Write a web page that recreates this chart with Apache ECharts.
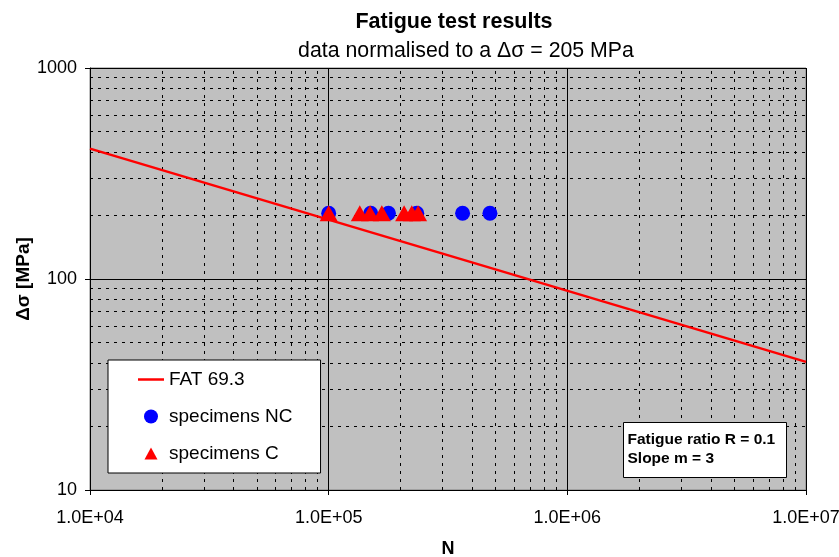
<!DOCTYPE html>
<html lang="en">
<head>
    <meta charset="UTF-8">
    <title>Fatigue test results</title>
    <script src="https://cdn.jsdelivr.net/npm/echarts@6/dist/echarts.min.js"></script>
    <style>
        body { margin: 0; padding: 0; background: #ffffff; }
        #chart { width: 839px; height: 557px; }
    </style>
</head>
<body>
<div id="chart"></div>
<script>
// FAT 69.3 design line (m = 3), end points
const fatLine = [[1e4, 415], [1e7, 40.5]];

// specimens, all normalised to 205 MPa
const cyclesNC = [1.0e5, 1.5e5, 1.78e5, 2.34e5, 3.64e5, 4.74e5];
const stressNC = [205, 205, 205, 205, 205, 205];
const cyclesC = [1.0e5, 1.35e5, 1.49e5, 1.67e5, 2.07e5, 2.23e5, 2.37e5];
const stressC = [205, 205, 205, 205, 205, 205, 205];

// minor grid positions (log decades)
const minorX = [];
const minorY = [];
[1e4, 1e5, 1e6].forEach(d => { for (let k = 2; k <= 9; k++) minorX.push(k * d); });
[10, 100].forEach(d => { for (let k = 2; k <= 9; k++) minorY.push(k * d); });

const font = 'Liberation Sans, Arial, sans-serif';

function expLabel(v) {
    const e = Math.round(Math.log10(v));
    return '1.0E+' + (e < 10 ? '0' + e : e);
}

// legend icons: the leading moves fix the box so the shapes are not stretched
const iconLine = 'path://M0,0 M26,14 M0,5.75 L26,5.75 L26,8.25 L0,8.25 Z';
const iconTri = 'path://M0,0 M26,14 M6.5,13 L13,1 L19.5,13 Z';

const chart = echarts.init(document.getElementById('chart'));

chart.setOption({
    backgroundColor: '#ffffff',
    animation: false,
    textStyle: { fontFamily: font },
    title: [{
        text: 'Fatigue test results',
        left: 449,
        top: 6,
        textAlign: 'center',
        textStyle: { fontSize: 21.5, fontWeight: 'bold', color: '#000', fontFamily: font }
    }, {
        text: 'data normalised to a \u0394\u03c3 = 205 MPa',
        left: 461,
        top: 36,
        textAlign: 'center',
        textStyle: { fontSize: 21.3, fontWeight: 'normal', color: '#000', fontFamily: font }
    }],
    grid: {
        left: 90, right: 33, top: 68, bottom: 67,
        outerBoundsMode: 'none',
        show: true,
        backgroundColor: '#c0c0c0',
        borderColor: '#808080',
        borderWidth: 1
    },
    legend: {
        orient: 'vertical',
        left: 108,
        top: 360,
        z: 10,
        backgroundColor: '#ffffff',
        borderColor: '#000000',
        borderWidth: 1,
        padding: [10, 28, 10, 30],
        itemGap: 18,
        itemWidth: 26,
        itemHeight: 14,
        textStyle: { fontSize: 19, color: '#000', fontFamily: font },
        data: [
            { name: 'FAT 69.3', icon: iconLine },
            { name: 'specimens NC', icon: 'circle' },
            { name: 'specimens C', icon: iconTri }
        ]
    },
    xAxis: {
        type: 'log',
        logBase: 10,
        min: 1e4,
        max: 1e7,
        name: 'N',
        nameLocation: 'middle',
        nameGap: 50,
        nameTextStyle: { fontSize: 18, fontWeight: 'bold', color: '#000' },
        axisLine: { lineStyle: { color: '#000' } },
        axisTick: { show: true, length: 5, lineStyle: { color: '#000' } },
        axisLabel: { fontSize: 18, color: '#000', margin: 19, formatter: expLabel },
        splitLine: { show: true, lineStyle: { color: '#000', width: 1 } }
    },
    yAxis: {
        type: 'log',
        logBase: 10,
        min: 10,
        max: 1000,
        name: '\u0394\u03c3 [MPa]',
        nameLocation: 'middle',
        nameGap: 57,
        nameMoveOverlap: false,
        nameTextStyle: { fontSize: 19, fontWeight: 'bold', color: '#000' },
        axisLine: { lineStyle: { color: '#000' } },
        axisTick: { show: true, inside: false, length: 5, lineStyle: { color: '#000' } },
        axisLabel: { fontSize: 18, color: '#000', margin: 13, formatter: v => String(v) },
        splitLine: { show: true, lineStyle: { color: '#000', width: 1 } }
    },
    graphic: [{
        type: 'group',
        left: 623,
        top: 422,
        z: 100,
        children: [{
            type: 'rect',
            z: 100,
            shape: { x: 0, y: 0, width: 163, height: 55 },
            style: { fill: '#ffffff', stroke: '#000', lineWidth: 1 }
        }, {
            type: 'text',
            z: 101,
            left: 4,
            top: 8,
            style: {
                text: 'Fatigue ratio R = 0.1\nSlope m = 3',
                font: 'bold 15.5px ' + font,
                lineHeight: 19,
                fill: '#000'
            }
        }]
    }],
    series: [{
        name: 'minor grid',
        type: 'line',
        data: [],
        silent: true,
        z: 1,
        markLine: {
            z: 1,
            silent: true,
            symbol: 'none',
            label: { show: false },
            lineStyle: { color: '#000', type: [3, 5], width: 1 },
            data: minorX.map(v => ({ xAxis: v })).concat(minorY.map(v => ({ yAxis: v })))
        }
    }, {
        name: 'FAT 69.3',
        type: 'line',
        data: fatLine,
        symbol: 'none',
        lineStyle: { color: '#ff0000', width: 2.5 },
        itemStyle: { color: '#ff0000' },
        z: 3
    }, {
        name: 'specimens NC',
        type: 'scatter',
        data: cyclesNC.map((n, i) => [n, stressNC[i]]),
        symbol: 'circle',
        symbolSize: 15,
        itemStyle: { color: '#0000ff', opacity: 1 },
        z: 4
    }, {
        name: 'specimens C',
        type: 'scatter',
        data: cyclesC.map((n, i) => [n, stressC[i]]),
        symbol: 'triangle',
        symbolSize: [18, 16],
        itemStyle: { color: '#ff0000', opacity: 1 },
        z: 5
    }]
});
</script>
</body>
</html>
